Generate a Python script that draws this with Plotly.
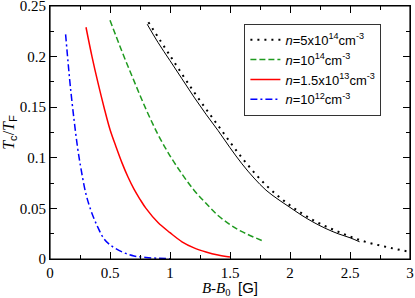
import plotly.graph_objects as go

# Data
solid_x = [0.81, 0.9, 1.0, 1.1, 1.2, 1.3, 1.4, 1.5, 1.6, 1.7, 1.8, 1.9, 2.0, 2.1, 2.2, 2.3, 2.4, 2.5, 2.58]
solid_y = [0.232, 0.214, 0.196, 0.178, 0.160, 0.143, 0.127, 0.110, 0.094, 0.080, 0.068, 0.059, 0.051, 0.043, 0.036, 0.030, 0.025, 0.021, 0.017]

n5e14_x = [0.82, 1.0, 1.2, 1.4, 1.6, 1.8, 2.0, 2.2, 2.4, 2.6, 2.8, 3.0]
n5e14_y = [0.234, 0.201, 0.165, 0.132, 0.100, 0.073, 0.053, 0.038, 0.027, 0.018, 0.012, 0.007]

n1e14_x = [0.50, 0.6, 0.7, 0.8, 0.9, 1.0, 1.1, 1.2, 1.3, 1.4, 1.5, 1.6, 1.77]
n1e14_y = [0.236, 0.205, 0.176, 0.148, 0.123, 0.102, 0.084, 0.068, 0.055, 0.043, 0.034, 0.027, 0.018]

n15e13_x = [0.30, 0.35, 0.4, 0.45, 0.5, 0.55, 0.6, 0.65, 0.7, 0.75, 0.8, 0.9, 1.0, 1.1, 1.2, 1.3, 1.4, 1.5]
n15e13_y = [0.229, 0.200, 0.174, 0.150, 0.128, 0.111, 0.095, 0.081, 0.069, 0.059, 0.050, 0.036, 0.026, 0.017, 0.011, 0.007, 0.004, 0.002]

n1e12_x = [0.13, 0.15, 0.17, 0.2, 0.23, 0.26, 0.3, 0.35, 0.4, 0.45, 0.5, 0.6, 0.7, 0.8, 0.9, 1.0]
n1e12_y = [0.222, 0.195, 0.170, 0.138, 0.110, 0.088, 0.064, 0.045, 0.031, 0.020, 0.014, 0.007, 0.003, 0.0015, 0.0007, 0.0003]

x_ticks = [0, 0.5, 1, 1.5, 2, 2.5, 3]
x_tick_labels = ["0", "0.5", "1", "1.5", "2", "2.5", "3"]
y_ticks = [0, 0.05, 0.1, 0.15, 0.2, 0.25]
y_tick_labels = ["0", "0.05", "0.1", "0.15", "0.2", "0.25"]

SERIF = "Liberation Serif, Times New Roman, serif"
SANS = "Liberation Sans, Arial, sans-serif"

fig = go.Figure()

fig.add_trace(go.Scatter(x=solid_x, y=solid_y, mode="lines", line=dict(color="black", width=1),
                         line_shape="spline", showlegend=False, hoverinfo="skip"))
fig.add_trace(go.Scatter(x=n5e14_x, y=n5e14_y, mode="lines",
                         line=dict(color="black", width=2, dash="2px,5px"), line_shape="spline",
                         name="<i>n</i>=5x10<sup>14</sup>cm<sup>-3</sup>"))
fig.add_trace(go.Scatter(x=n1e14_x, y=n1e14_y, mode="lines",
                         line=dict(color="#1f9a1f", width=1.5, dash="6px,3px"), line_shape="spline",
                         name="<i>n</i>=10<sup>14</sup>cm<sup>-3</sup>"))
fig.add_trace(go.Scatter(x=n15e13_x, y=n15e13_y, mode="lines",
                         line=dict(color="#ff0000", width=1.5), line_shape="spline",
                         name="<i>n</i>=1.5x10<sup>13</sup>cm<sup>-3</sup>"))
fig.add_trace(go.Scatter(x=n1e12_x, y=n1e12_y, mode="lines",
                         line=dict(color="#0000ff", width=1.5, dash="7px,3px,2px,3px"), line_shape="spline",
                         name="<i>n</i>=10<sup>12</sup>cm<sup>-3</sup>"))

tick_common = dict(
    showline=True, linecolor="black", linewidth=1.2, mirror="allticks", automargin=False,
    ticks="inside", ticklen=7, tickwidth=1.2, tickcolor="black",
    showgrid=False, zeroline=False, ticklabeloverflow="allow",
    tickfont=dict(family=SERIF, size=15, color="black"),
)

fig.update_layout(
    template="none",
    xaxis=dict(
        range=[x_ticks[0], x_ticks[-1]], tickmode="linear", tick0=x_ticks[0],
        dtick=x_ticks[1] - x_ticks[0],
        minor=dict(ticks="inside", ticklen=4, dtick=(x_ticks[1] - x_ticks[0]) / 2,
                   tickcolor="black", tickwidth=1),
        title=dict(text='<i>B</i>-<i>B</i><sub>0</sub>  <span style="font-family:Liberation Sans">[G]</span>',
                   font=dict(family=SERIF, size=15, color="black"), standoff=4),
        **tick_common,
    ),
    yaxis=dict(
        range=[y_ticks[0], y_ticks[-1]], tickmode="linear", tick0=y_ticks[0],
        dtick=y_ticks[1] - y_ticks[0],
        minor=dict(ticks="inside", ticklen=4, dtick=(y_ticks[1] - y_ticks[0]) / 2,
                   tickcolor="black", tickwidth=1),
        title=dict(text='<i>T</i><sub><span style="font-family:Liberation Sans">c</span></sub>/<i>T</i><sub><span style="font-family:Liberation Sans">F</span></sub>',
                   font=dict(family=SERIF, size=16, color="black"), standoff=4),
        **tick_common,
    ),
    shapes=[dict(type="rect", xref="paper", yref="paper", x0=0, x1=1, y0=0, y1=1,
                 line=dict(color="black", width=1.2), fillcolor="rgba(0,0,0,0)", layer="above")],
    width=415, height=298,
    margin=dict(l=50, r=5, t=6, b=39),
    plot_bgcolor="white", paper_bgcolor="white",
    legend=dict(x=0.54, y=0.93, xanchor="left", yanchor="top",
                bordercolor="#333333", borderwidth=1, bgcolor="white",
                font=dict(family=SANS, size=13, color="black"),
                itemwidth=30, tracegroupgap=0),
)

fig.write_html("out.html", config={"displayModeBar": False},
               post_script="document.body.style.margin='0';")
